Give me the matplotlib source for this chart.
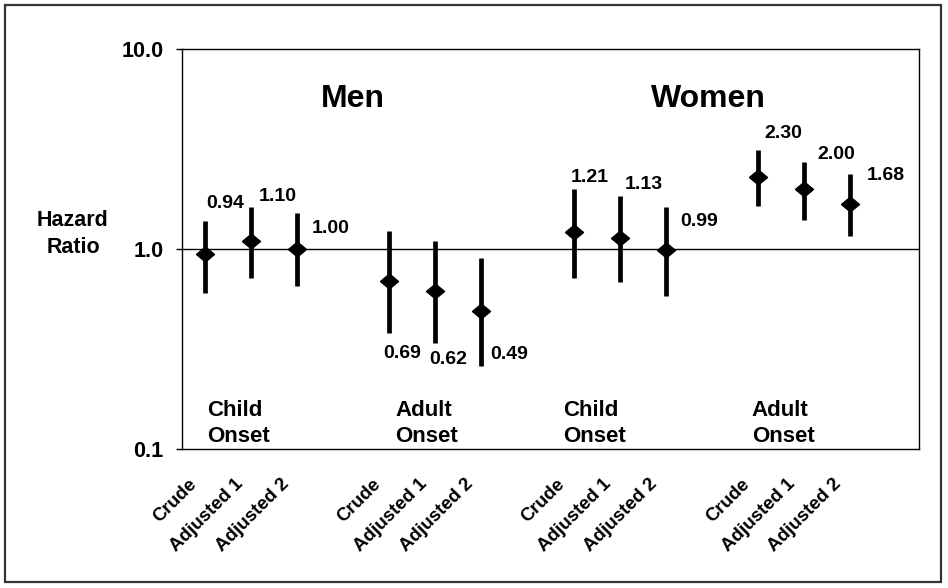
import numpy as np
import matplotlib
matplotlib.use("Agg")
import matplotlib.pyplot as plt
from matplotlib.patches import Rectangle
from matplotlib.transforms import ScaledTranslation

plt.rcParams['font.family'] = ['Liberation Sans', 'DejaVu Sans']
plt.rcParams['font.weight'] = 'bold'

# hazard ratios with confidence limits, 4 groups x 3 models
models = ["Crude", "Adjusted 1", "Adjusted 2"]
groups = ["Child\nOnset", "Adult\nOnset", "Child\nOnset", "Adult\nOnset"]
sexes = ["Men", "Women"]
hr = [0.94, 1.10, 1.00, 0.69, 0.62, 0.49, 1.21, 1.13, 0.99, 2.30, 2.00, 1.68]
ci_low = [0.60, 0.72, 0.65, 0.38, 0.34, 0.26, 0.72, 0.68, 0.58, 1.64, 1.40, 1.16]
ci_high = [1.38, 1.62, 1.51, 1.23, 1.10, 0.90, 2.00, 1.84, 1.62, 3.13, 2.72, 2.37]

# label offsets in pixels from each marker (dx, dy)
label_offsets = [(20, 51), (27, 44), (34, 20), (13, -72), (13, -69), (28, -44),
                 (16, 55), (24, 54), (33, 28), (26, 43), (32, 34), (36, 28)]

# x slots: 3 per group, one empty slot between groups
xpos = []
for g in range(len(groups)):
    for m in range(len(models)):
        xpos.append(g * 4 + m + 0.5)
xpos = np.array(xpos)

# slightly flattened diamond
diamond = [(-1, 0), (0, 0.83), (1, 0), (0, -0.83), (-1, 0)]

fig = plt.figure(figsize=(9.48, 5.88), dpi=100)
ax = fig.add_axes([0.192, 0.2364, 0.7774, 0.6803])

ax.set_yscale('log')
ax.set_ylim(0.1, 10)
ax.set_xlim(0, 16)
ax.axhline(1.0, color='black', lw=1)

yerr = [np.array(hr) - np.array(ci_low), np.array(ci_high) - np.array(hr)]
ax.errorbar(xpos, hr, yerr=yerr, fmt='none', ecolor='black',
            elinewidth=3.4, capsize=0, zorder=3)
ax.plot(xpos, hr, linestyle='none', marker=diamond, ms=13, color='black',
        zorder=4)

for x, v, (dx, dy) in zip(xpos, hr, label_offsets):
    ax.annotate(f"{v:.2f}", (x, v), xytext=(dx, dy), textcoords='offset pixels',
                ha='center', va='center', fontsize=14, fontweight='bold')

# group labels below the points
group_x = [0.54, 4.63, 8.28, 12.37]
for gx, g in zip(group_x, groups):
    ax.text(gx, 0.102, g, ha='left', va='bottom', fontsize=16,
            fontweight='bold', linespacing=1.35)

# sex headers
for sx, s in zip([3.72, 11.43], sexes):
    ax.text(sx, 5.6, s, ha='center', va='center', fontsize=23, fontweight='bold')

ax.set_yticks([0.1, 1.0, 10.0])
ax.set_yticklabels(["0.1", "1.0", "10.0"], fontsize=15.5, fontweight='bold')
ax.yaxis.set_minor_locator(matplotlib.ticker.NullLocator())
ax.tick_params(axis='y', direction='out', length=4.5, width=1, pad=9)

ax.set_xticks(xpos)
ax.set_xticklabels(models * len(groups), rotation=45, ha='right',
                   rotation_mode='anchor', fontsize=13.5, fontweight='bold')
ax.tick_params(axis='x', length=0, pad=19)
shift = ScaledTranslation(-0.17, 0, fig.dpi_scale_trans)
for lbl in ax.get_xticklabels():
    lbl.set_transform(lbl.get_transform() + shift)

for sp in ax.spines.values():
    sp.set_linewidth(1)

fig.text(73 / 948, 1 - 234 / 588, "Hazard\nRatio", ha='center', va='center',
         fontsize=15.5, fontweight='bold', linespacing=1.35)

# outer frame
fig.patches.append(Rectangle((5 / 948, 6 / 588), 936 / 948, 577 / 588,
                             transform=fig.transFigure, fill=False,
                             edgecolor='#333333', lw=1.6))

fig.savefig("out.png", dpi=100)
